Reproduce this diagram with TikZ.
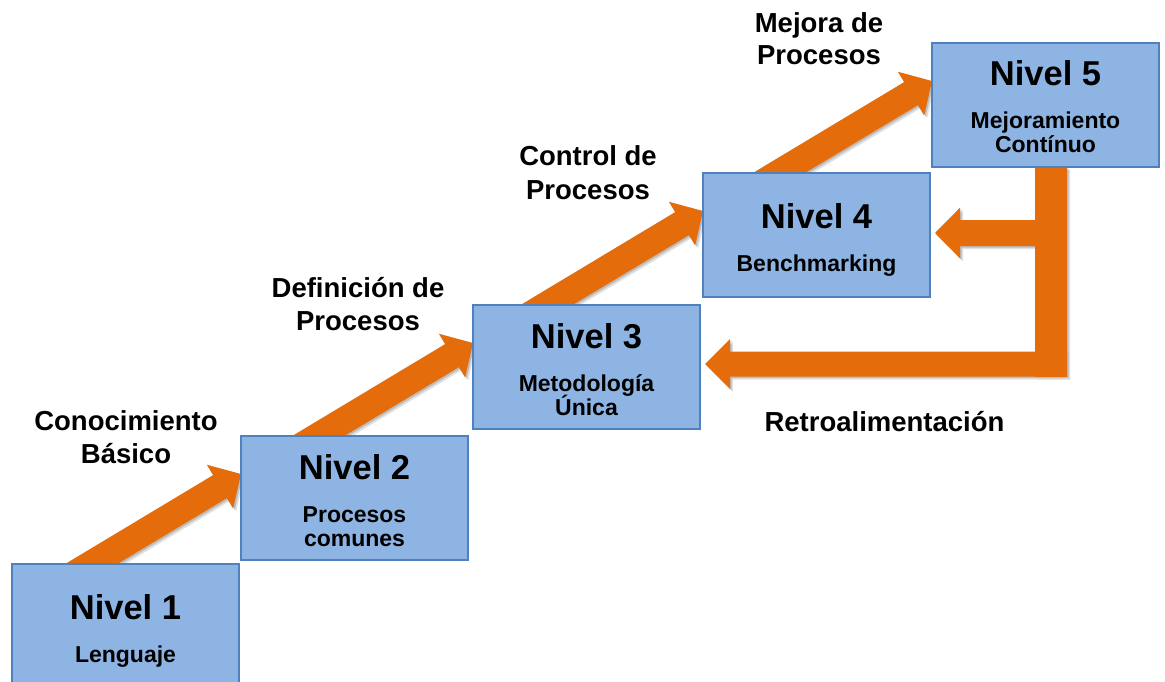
\documentclass[tikz,border=0pt]{standalone}
\usepackage{fontspec}
\setmainfont{Liberation Sans}
\usetikzlibrary{calc}

\definecolor{arroworange}{HTML}{E46C0A}
\definecolor{boxfill}{HTML}{8EB4E3}
\definecolor{boxline}{HTML}{4F81BD}

\pgfdeclarelayer{background}
\pgfsetlayers{background,main}

% Block arrow: #1 fill style, #2 start, #3 tip, #4 half shaft width, #5 half head width, #6 head length
\newcommand{\blkarrow}[6]{%
  \path (#3) coordinate (ba-t) ($(#3)!#6!(#2)$) coordinate (ba-h);
  \fill[#1]
    ($(#2)!#4!90:(ba-t)$) -- ($(ba-h)!#4!90:(ba-t)$) -- ($(ba-h)!#5!90:(ba-t)$)
    -- (ba-t)
    -- ($(ba-h)!#5!-90:(ba-t)$) -- ($(ba-h)!#4!-90:(ba-t)$) -- ($(#2)!#4!-90:(ba-t)$)
    -- cycle;
}

% All orange flow shapes; #1 is the fill style
\newcommand{\flowshapes}[1]{%
  \foreach \a in {1,2,3,4}{
    \blkarrow{#1}{s\a}{t\a}{13.4pt}{25.5pt}{24.5pt}
  }
  \fill[#1] ($(vb)+(-16,0)$) rectangle ($(f3 -| vb)+(16,12.5)$);
  \blkarrow{#1}{f3s}{f3}{12.5pt}{25pt}{25pt}
  \blkarrow{#1}{f4s}{f4}{13pt}{25.3pt}{25pt}
}

\tikzset{
  flowarrow/.style={fill=arroworange},
  flowshade/.style={fill=black},
  levelbox/.style={rectangle, draw=boxline, line width=2.5pt, fill=boxfill,
    minimum width=227pt, minimum height=124pt, inner sep=0pt, outer sep=0pt},
  lvltitle/.style={anchor=base, inner sep=0pt, font=\fontsize{34.5}{40}\selectfont\bfseries},
  lvlsub/.style={anchor=base, inner sep=0pt, font=\fontsize{23}{24}\selectfont\bfseries},
  lbltext/.style={anchor=base, inner sep=0pt, font=\fontsize{27.5}{33}\selectfont\bfseries},
}

\begin{document}
\begin{tikzpicture}[x=1pt,y=-1pt]
\useasboundingbox (0,0) rectangle (1165,682);

% level boxes
\node[levelbox] (n1) at (125.5,626) {};
\node[levelbox] (n2) at (354.5,498) {};
\node[levelbox] (n3) at (586.5,367) {};
\node[levelbox] (n4) at (816.5,235) {};
\node[levelbox] (n5) at (1045.5,105) {};

% rising arrows (31 degrees): tip on the left side of the next level
\foreach \a/\b in {1/2,2/3,3/4,4/5}{
  \coordinate (t\a) at ($(n\b.west)+(0,-24)$);
  \coordinate (s\a) at ($(t\a)+(-188.6,113.3)$);
}
% feedback from level 5 back to levels 4 and 3
\coordinate (vb) at ($(n5.south)+(5.5,0)$);
\coordinate (f3) at ($(n3.east)+(5,-3)$);
\coordinate (f4) at ($(n4.east)+(5,-2)$);
\coordinate (f3s) at ($(f3 -| vb)+(16,0)$);
\coordinate (f4s) at (f4 -| vb);

\begin{pgfonlayer}{background}
  \begin{scope}[transparency group, opacity=0.12,
                transform canvas={shift={(3pt,-3pt)}}]
    \flowshapes{flowshade}
  \end{scope}
  \begin{scope}[transparency group, opacity=0.16,
                transform canvas={shift={(1.5pt,-1.5pt)}}]
    \flowshapes{flowshade}
  \end{scope}
  \flowshapes{flowarrow}
\end{pgfonlayer}

% box texts
\node[lvltitle] (n1t) at ($(n1)+(0,-7)$) {Nivel 1};
\node[lvlsub]   (n1s) at ($(n1)+(0,36)$) {Lenguaje};

\node[lvltitle] (n2t) at ($(n2)+(0,-19)$) {Nivel 2};
\node[lvlsub]   (n2s) at ($(n2)+(0,24)$) {Procesos};
\node[lvlsub]   (n2u) at ($(n2)+(0,48)$) {comunes};

\node[lvltitle] (n3t) at ($(n3)+(0,-19)$) {Nivel 3};
\node[lvlsub]   (n3s) at ($(n3)+(0,24)$) {Metodología};
\node[lvlsub]   (n3u) at ($(n3)+(0,48)$) {Única};

\node[lvltitle] (n4t) at ($(n4)+(0,-7)$) {Nivel 4};
\node[lvlsub]   (n4s) at ($(n4)+(0,36)$) {Benchmarking};

\node[lvltitle] (n5t) at ($(n5)+(0,-19)$) {Nivel 5};
\node[lvlsub]   (n5s) at ($(n5)+(0,24)$) {Mejoramiento};
\node[lvlsub]   (n5u) at ($(n5)+(0,48)$) {Contínuo};

% arrow captions
\node[lbltext] (l1a) at (126,430) {Conocimiento};
\node[lbltext] (l1b) at (126,463) {Básico};
\node[lbltext] (l2a) at (358,297) {Definición de};
\node[lbltext] (l2b) at (358,330) {Procesos};
\node[lbltext] (l3a) at (588,166) {Control de};
\node[lbltext] (l3b) at (588,199) {Procesos};
\node[lbltext] (l4a) at (819,33) {Mejora de};
\node[lbltext] (l4b) at (819,65) {Procesos};
\node[lbltext] (lfb) at (884.5,431) {Retroalimentación};
\end{tikzpicture}
\end{document}
